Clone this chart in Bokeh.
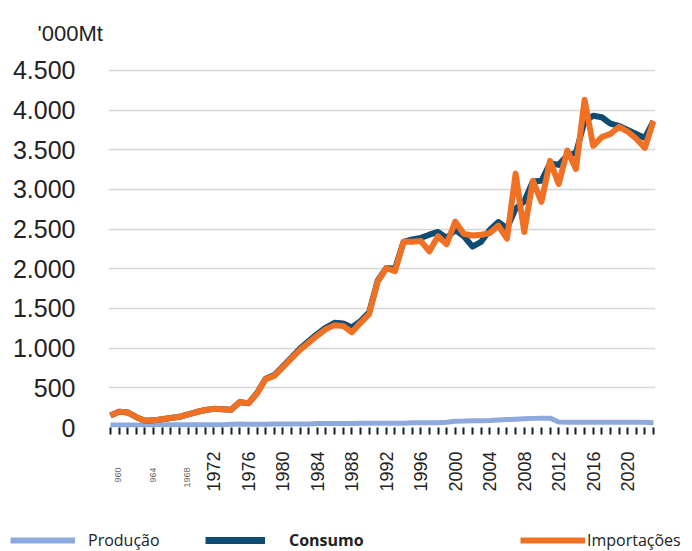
import math
from bokeh.plotting import figure
from bokeh.models import (Range1d, FixedTicker, Legend, LegendItem, Title, LinearAxis)
from bokeh.embed import file_html
from bokeh.resources import INLINE

years = list(range(1960, 2024))

producao = [30, 30, 30, 30, 30, 30, 35, 35, 35, 35,
            35, 35, 35, 35, 40, 45, 40, 40, 40, 45,
            45, 45, 45, 45, 50, 50, 50, 50, 50, 55,
            55, 55, 55, 55, 55, 60, 60, 60, 60, 65,
            80, 82, 85, 85, 88, 95, 100, 105, 110, 115,
            118, 118, 70, 65, 65, 65, 65, 65, 65, 65,
            65, 65, 65, 60]

consumo = [150, 200, 190, 130, 85, 90, 105, 120, 135, 165,
           195, 220, 235, 230, 225, 320, 305, 435, 615, 660,
           770, 880, 995, 1090, 1180, 1260, 1320, 1310, 1260, 1340,
           1450, 1850, 2010, 2000, 2340, 2370, 2390, 2430, 2465, 2390,
           2490, 2410, 2280, 2340, 2490, 2590, 2510, 2760, 2850, 3100,
           3110, 3330, 3310, 3430, 3460, 3860, 3930, 3910, 3830, 3800,
           3750, 3700, 3650, 3860]

importacoes = [150, 200, 190, 130, 85, 90, 105, 120, 135, 165,
               195, 220, 235, 230, 225, 320, 305, 430, 610, 650,
               760, 870, 980, 1070, 1160, 1240, 1290, 1280, 1200, 1320,
               1430, 1840, 2010, 1970, 2340, 2340, 2350, 2220, 2410, 2310,
               2595, 2440, 2420, 2430, 2450, 2545, 2380, 3200, 2465, 3110,
               2845, 3360, 3070, 3490, 3260, 4130, 3550, 3660, 3700, 3790,
               3730, 3640, 3525, 3865]

y_ticks = [0, 500, 1000, 1500, 2000, 2500, 3000, 3500, 4000, 4500]
y_tick_labels = ["0", "500", "1.000", "1.500", "2.000", "2.500",
                 "3.000", "3.500", "4.000", "4.500"]
x_label_years = [1972, 1976, 1980, 1984, 1988, 1992, 1996, 2000, 2004, 2008, 2012, 2016, 2020]
tiny_ticks = [1960.9, 1964.9, 1968.9]
tiny_labels = ["960", "964", "1968"]

series_names = ["Produção", "Consumo", "Importações"]
series_colors = ["#8EA9DE", "#0E4C74", "#F07124"]

FONT = "Liberation Sans"

p = figure(width=692, height=525, output_backend="svg", toolbar_location=None,
           x_range=Range1d(1959.77, 2023.23), y_range=Range1d(0, 4676),
           min_border_left=108, min_border_right=37, min_border_top=56,
           min_border_bottom=98)
p.outline_line_color = None
p.background_fill_color = "white"
p.border_fill_color = "white"

p.title = Title(text="'000Mt", align="left", offset=-71, standoff=22,
                text_font=FONT, text_font_size="22px", text_font_style="normal",
                text_color="#222222")

# lines
p.line(years, producao, line_color=series_colors[0], line_width=5)
p.line(years, consumo, line_color=series_colors[1], line_width=6, line_join="round")
p.line(years, importacoes, line_color=series_colors[2], line_width=6, line_join="round")

# y axis
p.yaxis.ticker = FixedTicker(ticks=y_ticks)
p.yaxis.major_label_overrides = {t: l for t, l in zip(y_ticks, y_tick_labels)}
p.yaxis.axis_line_color = None
p.yaxis.major_tick_line_color = None
p.yaxis.minor_tick_line_color = None
p.yaxis.major_tick_out = 0
p.yaxis.major_label_standoff = 33
p.yaxis.major_label_text_font = FONT
p.yaxis.major_label_text_font_size = "25px"
p.yaxis.major_label_text_color = "#222222"

# x axis
p.xaxis.ticker = FixedTicker(ticks=years)
p.xaxis.major_label_overrides = {y: (str(y) if y in x_label_years else "") for y in years}
p.xaxis.major_label_orientation = math.pi / 2
p.xaxis.axis_line_color = None
p.xaxis.major_tick_in = 0
p.xaxis.major_tick_out = 7
p.xaxis.major_tick_line_width = 2
p.xaxis.major_tick_line_color = "#10202e"
p.xaxis.minor_tick_line_color = None
p.xaxis.major_label_standoff = 17
p.xaxis.major_label_text_font = FONT
p.xaxis.major_label_text_font_size = "18px"
p.xaxis.major_label_text_color = "#222222"

# tiny (faint) early year labels
tiny_axis = LinearAxis(ticker=FixedTicker(ticks=tiny_ticks),
                       major_label_overrides={t: l for t, l in zip(tiny_ticks, tiny_labels)},
                       major_label_orientation=math.pi / 2,
                       axis_line_color=None, major_tick_line_color=None,
                       minor_tick_line_color=None, major_tick_in=0, major_tick_out=0,
                       major_label_standoff=-27,
                       major_label_text_font=FONT, major_label_text_font_size="9px",
                       major_label_text_color="#666666")
p.add_layout(tiny_axis, "below")

p.xgrid.grid_line_color = None
p.ygrid.ticker = FixedTicker(ticks=y_ticks[1:])
p.ygrid.grid_line_color = "#D6D6D6"
p.ygrid.grid_line_width = 1.5

# legend strip (separate root, so its frame starts at the left edge)
leg = figure(width=692, height=26, output_backend="svg", toolbar_location=None,
             x_range=Range1d(0, 692), y_range=Range1d(0, 26),
             x_axis_type=None, y_axis_type=None, min_border=0)
leg.outline_line_color = None
leg.grid.visible = False
leg_widths = [6, 7, 6]
dummies = [leg.line(x=[-20, -10], y=[-20, -20], line_color=c, line_width=w)
           for c, w in zip(series_colors, leg_widths)]

def make_legend(label, renderer, loc, glyph_w, standoff, bold=False):
    return Legend(items=[LegendItem(label=label, renderers=[renderer])],
                  location=loc, orientation="horizontal",
                  glyph_width=glyph_w, glyph_height=12, label_standoff=standoff,
                  label_text_font="Open Sans", label_text_font_size="16px",
                  label_text_color="#222222",
                  label_text_font_style="bold" if bold else "normal",
                  border_line_color=None, background_fill_alpha=0,
                  padding=0, margin=0, spacing=0)

leg.add_layout(make_legend(series_names[0], dummies[0], (10, 0), 65, 13))
leg.add_layout(make_legend(series_names[1], dummies[1], (205, 0), 60, 24, bold=True))
leg.add_layout(make_legend(series_names[2], dummies[2], (520, 0), 65, 2))

open("out.html", "w").write(file_html([p, leg], INLINE))
